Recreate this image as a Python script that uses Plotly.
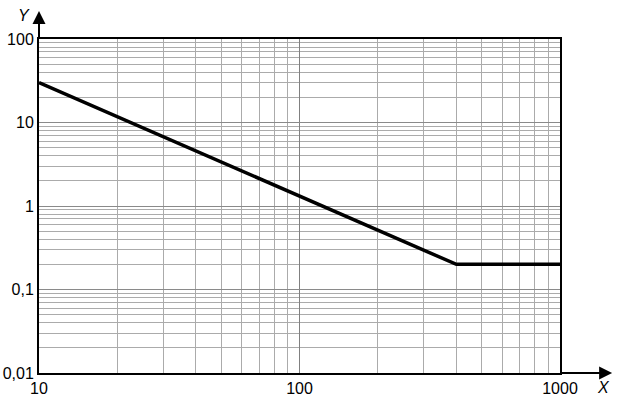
import plotly.graph_objects as go

# Data
x_vals = [10, 400, 1000]
y_vals = [30, 0.2, 0.2]

x_tickvals = [10, 100, 1000]
x_ticktext = ["10", "100", "1000"]
y_tickvals = [0.01, 0.1, 1, 10, 100]
y_ticktext = ["0,01", "0,1", "1", "10", "100"]

x_minor = [m * 10 ** e for e in (1, 2) for m in range(2, 10)]
y_minor = [m * 10 ** e for e in (-2, -1, 0, 1) for m in range(2, 10)]

fig = go.Figure()
fig.add_trace(go.Scatter(x=x_vals, y=y_vals, mode="lines",
                         line=dict(color="black", width=3.5), showlegend=False,
                         hoverinfo="skip"))

font = dict(family="Liberation Sans", size=16, color="black")

fig.update_layout(
    width=617, height=402,
    margin=dict(l=39, r=57, t=39, b=29, autoexpand=False),
    paper_bgcolor="white", plot_bgcolor="white",
    font=font,
    xaxis=dict(type="log", range=[1, 3], tickvals=x_tickvals, ticktext=x_ticktext,
               showgrid=True, gridcolor="#808080", gridwidth=1.2,
               showline=True, linecolor="black", linewidth=2, mirror=True,
               ticks="", zeroline=False, automargin=False, tickfont=font,
               minor=dict(tickvals=x_minor, showgrid=True, gridcolor="#ababab", gridwidth=1, ticks="")),
    yaxis=dict(type="log", range=[-2, 2], tickvals=y_tickvals, ticktext=y_ticktext,
               showgrid=True, gridcolor="#8a8a8a", gridwidth=1,
               showline=True, linecolor="black", linewidth=2, mirror=True,
               ticks="", zeroline=False, automargin=False, tickfont=font,
               minor=dict(tickvals=y_minor, showgrid=True, gridcolor="#ababab", gridwidth=1, ticks="")),
)

# axis arrows
fig.add_annotation(xref="paper", yref="paper", x=0, y=1.084, ax=0, ay=28,
                   axref="pixel", ayref="pixel", showarrow=True, arrowhead=2,
                   arrowsize=1.3, arrowwidth=2, arrowcolor="black", text="")
fig.add_annotation(xref="paper", yref="paper", x=1.1, y=0, ax=-52, ay=0,
                   axref="pixel", ayref="pixel", showarrow=True, arrowhead=2,
                   arrowsize=1.3, arrowwidth=2, arrowcolor="black", text="")
fig.add_annotation(xref="paper", yref="paper", x=-0.029, y=1.069, text="<i>Y</i>",
                   xanchor="center", yanchor="middle", showarrow=False, font=font)
fig.add_annotation(xref="paper", yref="paper", x=1.083, y=-0.042, text="<i>X</i>",
                   xanchor="center", yanchor="middle", showarrow=False, font=font)

fig.write_html("out.html", config={"displayModeBar": False},
               post_script="document.body.style.margin='0';")
